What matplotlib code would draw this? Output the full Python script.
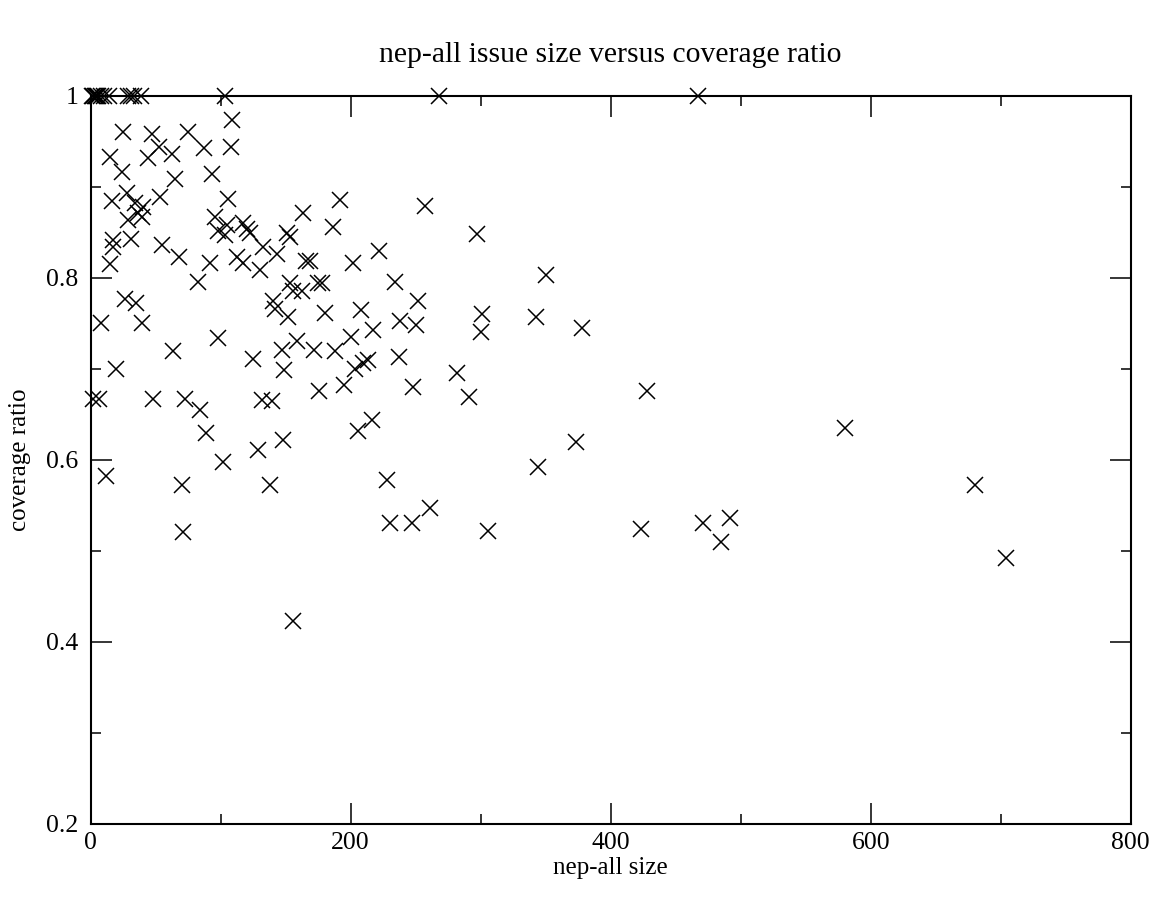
"""
Scatter of nep-all issue size against coverage ratio (xmgrace-style).
"""

import matplotlib
matplotlib.use("Agg")
import matplotlib.pyplot as plt
import matplotlib.ticker as mticker

# ── Data ──────────────────────────────────

size = [
    1, 2, 3, 4, 5, 6, 8, 10, 14, 29, 31, 33, 39, 103, 268, 467,
    24.6, 46.9, 74.6, 108.5, 14.8, 43.8, 52.8, 62.3, 87.4, 107.7,
    24.0, 64.8, 93.1, 27.7, 53.3, 16.4, 34.0, 105.9, 40.5, 36.6,
    39.2, 28.9, 17.4, 31.3, 17.4, 54.6, 15.2, 68.0, 91.8,
    95.6, 104.6, 98.2, 117.4, 120.0, 122.5, 103.3, 132.8, 143.1,
    150.8, 153.3, 112.3, 117.4, 130.2, 163.5, 191.8, 186.6, 222.0,
    257.2, 296.9, 202.0, 166.0, 168.7, 82.8, 153.3, 175.0, 177.7,
    140.5, 141.8, 155.8, 162.3, 152.0, 180.2, 207.9, 216.9, 200.0,
    97.7, 124.6, 146.9, 158.5, 172.0, 187.9, 148.9, 203.3, 213.5,
    209.7, 175.8, 194.8, 72.5, 83.9, 131.5, 139.2, 88.7, 102.0,
    128.9, 147.7, 205.9, 216.2, 70.0, 137.9, 71.2, 155.8,
    26.4, 34.9, 7.7, 39.2, 63.5, 19.5, 1.5, 6.6, 48.2, 11.5,
    350.0, 234.1, 252.0, 300.8, 342.3, 237.9, 250.0, 300.0, 378.2,
    237.2, 282.0, 248.2, 291.0, 428.2, 373.0, 344.3, 228.2, 261.0,
    230.2, 246.9, 305.8, 423.0, 471.0, 485.0, 492.0, 580.5, 680.5,
    704.3,
]

coverage = [
    1, 1, 1, 1, 1, 1, 1, 1, 1, 1, 1, 1, 1, 1, 1, 1,
    0.960, 0.958, 0.960, 0.973, 0.933, 0.932, 0.944, 0.936, 0.943, 0.944,
    0.916, 0.908, 0.914, 0.893, 0.889, 0.884, 0.882, 0.886, 0.878, 0.871,
    0.867, 0.863, 0.841, 0.843, 0.834, 0.836, 0.815, 0.823, 0.816,
    0.867, 0.858, 0.851, 0.860, 0.854, 0.849, 0.847, 0.834, 0.826,
    0.849, 0.845, 0.823, 0.816, 0.808, 0.871, 0.885, 0.856, 0.829,
    0.879, 0.848, 0.816, 0.818, 0.818, 0.795, 0.794, 0.794, 0.794,
    0.774, 0.766, 0.785, 0.785, 0.757, 0.761, 0.765, 0.742, 0.735,
    0.734, 0.711, 0.720, 0.730, 0.720, 0.719, 0.699, 0.700, 0.710,
    0.706, 0.676, 0.682, 0.667, 0.655, 0.666, 0.664, 0.629, 0.598,
    0.611, 0.622, 0.631, 0.644, 0.572, 0.572, 0.521, 0.423,
    0.777, 0.772, 0.750, 0.750, 0.719, 0.700, 0.667, 0.667, 0.667, 0.582,
    0.803, 0.795, 0.774, 0.760, 0.757, 0.752, 0.748, 0.740, 0.745,
    0.713, 0.695, 0.680, 0.669, 0.675, 0.619, 0.592, 0.578, 0.547,
    0.530, 0.530, 0.522, 0.524, 0.530, 0.510, 0.536, 0.635, 0.572,
    0.492,
]

x_ticks = [0, 200, 400, 600, 800]
y_ticks = [0.2, 0.4, 0.6, 0.8, 1.0]

FONT = "Liberation Serif"

fig = plt.figure(figsize=(11.64, 9.01), dpi=100)
ax = fig.add_axes([0.0779, 0.0858, 0.8935, 0.8080])

ax.plot(size, coverage, linestyle="none", marker="x", markersize=11,
        markeredgewidth=1.1, color="black", clip_on=False, zorder=3)

ax.set_xlim(0, 800)
ax.set_ylim(0.2, 1.0)
ax.set_xticks(x_ticks)
ax.set_yticks(y_ticks)
ax.xaxis.set_minor_locator(mticker.MultipleLocator(100))
ax.yaxis.set_minor_locator(mticker.MultipleLocator(0.1))
ax.yaxis.set_major_formatter(mticker.FuncFormatter(lambda v, _: f"{v:g}"))

for side in ax.spines.values():
    side.set_linewidth(1.5)

ax.tick_params(which="both", direction="in", top=True, right=True,
               labelsize=18.5, width=1.1)
ax.tick_params(which="major", length=15)
ax.tick_params(which="minor", length=7.5)
ax.tick_params(axis="x", pad=6)
ax.tick_params(axis="y", pad=9)
for lab in ax.get_xticklabels() + ax.get_yticklabels():
    lab.set_fontfamily(FONT)

ax.set_xlabel("nep-all size", fontsize=18, family=FONT, labelpad=2)
ax.set_ylabel("coverage ratio", fontsize=18, family=FONT)
ax.yaxis.set_label_coords(-0.057, 0.5)
ax.set_title("nep-all issue size versus coverage ratio", fontsize=21.3,
             family=FONT, pad=24)

fig.savefig("out.png", dpi=100, facecolor="white")
